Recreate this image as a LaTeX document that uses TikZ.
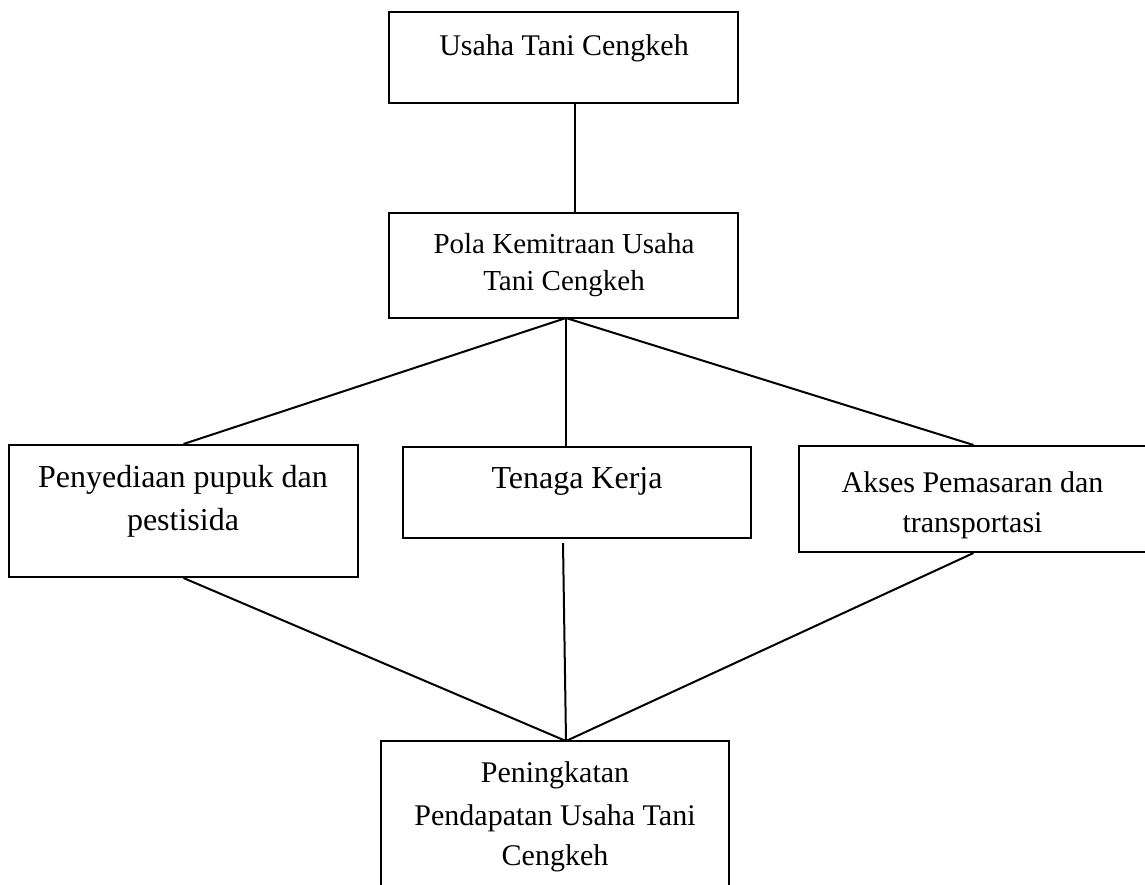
\documentclass[tikz,border=0pt]{standalone}
\usepackage{fontspec}
\setmainfont{Liberation Serif}
\begin{document}
\begin{tikzpicture}[x=0.5bp,y=-0.5bp,
  box/.style={draw=black,line width=1bp,rectangle,inner sep=0pt},
  conn/.style={draw=black,line width=1bp},
  txt/.style={anchor=base,inner sep=0pt,text=black}]
\useasboundingbox[fill=white] (0,0) rectangle (1145,884);
% boxes
\node[box,minimum width=174.5bp,minimum height=45.5bp] (b1) at (563.5,57.5) {};
\node[box,minimum width=174.5bp,minimum height=52.5bp] (b2) at (563.5,265.5) {};
\node[box,minimum width=174.5bp,minimum height=66bp] (b3) at (183.5,511) {};
\node[box,minimum width=174bp,minimum height=45.5bp] (b4) at (577,492.5) {};
\node[box,minimum width=174.5bp,minimum height=53bp] (b5) at (973.5,499) {};
\node[box,minimum width=174bp,minimum height=84.5bp] (b6) at (555,825.5) {};
% texts
\node[txt,font=\fontsize{15bp}{18bp}\selectfont] (t1) at (564,55) {Usaha Tani Cengkeh};
\node[txt,font=\fontsize{14.5bp}{18bp}\selectfont] (t2a) at (564,253) {Pola Kemitraan Usaha};
\node[txt,font=\fontsize{14.5bp}{18bp}\selectfont] (t2b) at (564,290) {Tani Cengkeh};
\node[txt,font=\fontsize{16bp}{19bp}\selectfont] (t3a) at (183,487) {Penyediaan pupuk dan};
\node[txt,font=\fontsize{16bp}{19bp}\selectfont] (t3b) at (183,530) {pestisida};
\node[txt,font=\fontsize{16bp}{19bp}\selectfont] (t4) at (577,488) {Tenaga Kerja};
\node[txt,font=\fontsize{15bp}{18bp}\selectfont] (t5a) at (972.5,492) {Akses Pemasaran dan};
\node[txt,font=\fontsize{15bp}{18bp}\selectfont] (t5b) at (972.5,532) {transportasi};
\node[txt,font=\fontsize{15bp}{18bp}\selectfont] (t6a) at (555,782) {Peningkatan};
\node[txt,font=\fontsize{15bp}{18bp}\selectfont] (t6b) at (555,825) {Pendapatan Usaha Tani};
\node[txt,font=\fontsize{15bp}{18bp}\selectfont] (t6c) at (555,865) {Cengkeh};
% connector points
\coordinate (topx) at (575,0);
\coordinate (apex) at (566,318);
\coordinate (bot) at (566,741);
\coordinate (tkgap) at (563,543);
% connectors
\draw[conn] (b1.south -| topx) -- (b2.north -| topx);
\draw[conn] (apex) -- (b3.north);
\draw[conn] (apex) -- (b4.north -| apex);
\draw[conn] (apex) -- (b5.north);
\draw[conn] (b3.south) -- (bot);
\draw[conn] (tkgap) -- (bot);
\draw[conn] (b5.south) -- (bot);
\end{tikzpicture}
\end{document}
